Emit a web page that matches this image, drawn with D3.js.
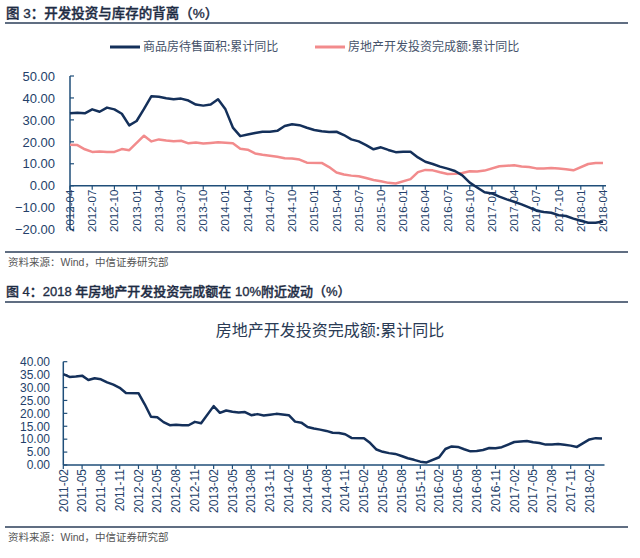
<!DOCTYPE html>
<html>
<head>
<meta charset="utf-8">
<script src="https://cdn.jsdelivr.net/npm/d3@7"></script>
<style>
  body { margin: 0; background: #fff; }
  svg { display: block; font-family: "Liberation Sans", "Noto Sans CJK SC", sans-serif; }
</style>
</head>
<body>
<svg></svg>
<script>
// 图3: 商品房待售面积 vs 开发投资, 2012-04 .. 2018-04
let months1 = d3.timeMonth.range(new Date(2012, 3, 1), new Date(2018, 4, 1)).map(d3.timeFormat("%Y-%m"));
// 图4: 开发投资, 2011-02 .. 2018-04
let months2 = d3.timeMonth.range(new Date(2011, 1, 1), new Date(2018, 4, 1)).map(d3.timeFormat("%Y-%m"));

let inventoryYoY = [
    33.0, 33.3, 33.0, 34.8, 33.7, 35.6, 34.8, 32.8, 27.5,
    29.5, 35.0, 40.8, 40.5, 39.9, 39.4, 39.7, 38.8, 37.0, 36.5, 37.0, 39.4,
    34.8, 26.5, 22.6, 23.3, 24.0, 24.6, 24.6, 25.0, 27.2, 28.0, 27.6, 26.4,
    25.4, 24.8, 24.5, 24.6, 23.1, 21.1, 20.2, 18.5, 16.6, 17.5, 16.3, 15.3,
    15.5, 15.5, 12.9, 10.9, 9.9, 8.7, 7.8, 6.7, 4.7, 1.4, -0.8, -3.0,
    -3.5, -5.0, -6.2, -7.3, -8.5, -9.9, -11.4, -12.0, -12.3, -13.4, -13.8, -15.0,
    -16.0, -16.9, -16.9, -16.3
];

// 房地产开发投资完成额:累计同比 (no January release)
let investYoY = [
    35.2, 34.1, 34.3, 34.6, 32.9, 33.6, 33.2, 32.0, 31.1, 29.9, 27.9,
    null, 27.8, 23.5, 18.7, 18.5, 16.6, 15.4, 15.6, 15.4, 15.4, 16.7, 16.2,
    null, 22.8, 20.2, 21.1, 20.6, 20.3, 20.5, 19.3, 19.7, 19.2, 19.5, 19.8,
    null, 19.3, 16.8, 16.4, 14.7, 14.1, 13.7, 13.2, 12.5, 12.4, 11.9, 10.5,
    null, 10.4, 8.5, 6.0, 5.1, 4.6, 4.3, 3.5, 2.6, 2.0, 1.3, 1.0,
    null, 3.0, 6.2, 7.2, 7.0, 6.1, 5.3, 5.4, 5.8, 6.6, 6.5, 6.9,
    null, 8.9, 9.1, 9.3, 8.8, 8.5, 7.9, 7.9, 8.1, 7.8, 7.5, 7.0,
    null, 9.9, 10.4, 10.3
];

let ticks1 = ["2012-04", "2012-07", "2012-10", "2013-01", "2013-04", "2013-07", "2013-10",
    "2014-01", "2014-04", "2014-07", "2014-10", "2015-01", "2015-04", "2015-07", "2015-10",
    "2016-01", "2016-04", "2016-07", "2016-10", "2017-01", "2017-04", "2017-07", "2017-10",
    "2018-01", "2018-04"];
let ticks2 = ["2011-02", "2011-05", "2011-08", "2011-11", "2012-02", "2012-05", "2012-08",
    "2012-11", "2013-02", "2013-05", "2013-08", "2013-11", "2014-02", "2014-05", "2014-08",
    "2014-11", "2015-02", "2015-05", "2015-08", "2015-11", "2016-02", "2016-05", "2016-08",
    "2016-11", "2017-02", "2017-05", "2017-08", "2017-11", "2018-02"];
let yTicks1 = [-20, -10, 0, 10, 20, 30, 40, 50];
let yTicks2 = [0, 5, 10, 15, 20, 25, 30, 35, 40];

let navy = "#14305a", pink = "#f28b8c", axisCol = "#1f4e79", textCol = "#243f6a";

let svg = d3.select("svg").attr("width", 640).attr("height", 558);

function rule(y) {
    svg.append("line").attr("x1", 5).attr("x2", 628).attr("y1", y).attr("y2", y)
        .attr("stroke", "#2b3e58").attr("stroke-width", 1.5);
}
function heading(text, y, size) {
    svg.append("text").attr("x", 6).attr("y", y).text(text)
        .style("font", "500 " + size + " 'Liberation Sans', 'Noto Sans CJK SC'").attr("fill", "#1e2c44")
        .attr("stroke", "#1e2c44").attr("stroke-width", 0.35);
}
function source(y) {
    svg.append("text").attr("x", 8).attr("y", y).text("资料来源：Wind，中信证券研究部")
        .style("font", "10.5px 'Liberation Sans', 'Noto Sans CJK SC'").attr("fill", "#555");
}

function lineOf(x, y, cats) {
    return function(values) {
        let pts = values.map(function(v, i) { return {c: cats[i], v: v}; })
            .filter(function(d) { return d.v !== null; });
        return d3.line().x(function(d) { return x(d.c); }).y(function(d) { return y(d.v); })(pts);
    };
}

function axes(x, y, yTicks, xTicks, opts) {
    let g = svg.append("g");
    // y axis
    g.append("line").attr("x1", opts.x0).attr("x2", opts.x0)
        .attr("y1", y(yTicks[yTicks.length - 1])).attr("y2", y(yTicks[0]))
        .attr("stroke", axisCol).attr("stroke-width", 1.5);
    yTicks.forEach(function(t) {
        g.append("line").attr("x1", opts.x0).attr("x2", opts.x0 + 4)
            .attr("y1", y(t)).attr("y2", y(t)).attr("stroke", axisCol).attr("stroke-width", 1.2);
        g.append("text").attr("x", opts.labelX).attr("y", y(t)).attr("dy", "0.36em")
            .attr("text-anchor", "end").attr("fill", textCol)
            .style("font-size", opts.yFont).text(d3.format(".2f")(t));
    });
    // x axis at zero
    let y0 = y(0);
    g.append("line").attr("x1", opts.x0).attr("x2", opts.xEnd).attr("y1", y0).attr("y2", y0)
        .attr("stroke", axisCol).attr("stroke-width", 1.5);
    xTicks.forEach(function(t) {
        g.append("line").attr("x1", x(t)).attr("x2", x(t)).attr("y1", y0).attr("y2", y0 + 4)
            .attr("stroke", axisCol).attr("stroke-width", 1.2);
        g.append("text")
            .attr("transform", "translate(" + x(t) + "," + (y0 + opts.labelGap) + ") rotate(-90)")
            .attr("dy", "0.35em").attr("text-anchor", "end").attr("fill", textCol)
            .style("font-size", opts.xFont).text(t);
    });
}

// ---------- 图3 ----------
heading("图 3：开发投资与库存的背离（%）", 18, "13.5px");
rule(23);

let legend = [{name: "商品房待售面积:累计同比", color: navy, x: 110},
              {name: "房地产开发投资完成额:累计同比", color: pink, x: 315}];
legend.forEach(function(l) {
    svg.append("line").attr("x1", l.x).attr("x2", l.x + 30).attr("y1", 47).attr("y2", 47)
        .attr("stroke", l.color).attr("stroke-width", 3);
    svg.append("text").attr("x", l.x + 33).attr("y", 47).attr("dy", "0.36em")
        .style("font", "12px 'Noto Sans CJK SC'").attr("fill", "#45526a").text(l.name);
});

let x1 = d3.scalePoint().domain(months1).range([70, 603]);
let y1 = d3.scaleLinear().domain([-20, 50]).range([229.6, 76]);

axes(x1, y1, yTicks1, ticks1, {x0: 70, xEnd: 606, labelX: 55, labelGap: 4, xFont: "11.5px", yFont: "13px"});

let invest1 = investYoY.slice(months2.indexOf("2012-04"));
svg.append("path").attr("d", lineOf(x1, y1, months1)(invest1))
    .attr("fill", "none").attr("stroke", pink).attr("stroke-width", 2.5).attr("stroke-linejoin", "round");
svg.append("path").attr("d", lineOf(x1, y1, months1)(inventoryYoY))
    .attr("fill", "none").attr("stroke", navy).attr("stroke-width", 2.5).attr("stroke-linejoin", "round");

rule(252);
source(266);

// ---------- 图4 ----------
heading("图 4：2018 年房地产开发投资完成额在 10%附近波动（%）", 296, "13px");
rule(302);

svg.append("text").attr("x", 330).attr("y", 330).attr("dy", "0.36em").attr("text-anchor", "middle")
    .style("font", "16px 'Noto Sans CJK SC'").attr("fill", "#2a3b55").text("房地产开发投资完成额:累计同比");

let x2 = d3.scalePoint().domain(months2).range([63.3, 602]);
let y2 = d3.scaleLinear().domain([0, 40]).range([465, 361.7]);

axes(x2, y2, yTicks2, ticks2, {x0: 63.3, xEnd: 604.5, labelX: 50, labelGap: 4, xFont: "12px", yFont: "12px"});

svg.append("path").attr("d", lineOf(x2, y2, months2)(investYoY))
    .attr("fill", "none").attr("stroke", navy).attr("stroke-width", 2.5).attr("stroke-linejoin", "round");

rule(527);
source(541);
</script>
</body>
</html>
